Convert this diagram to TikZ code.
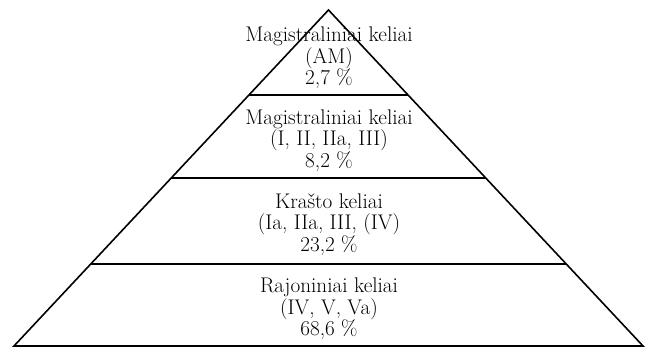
\documentclass[tikz,border=0pt]{standalone}
\usepackage{fontspec}
\usetikzlibrary{calc}
\tikzset{
  edge/.style={line width=1.6pt, line join=miter},
  level/.style={line width=1.6pt},
  label/.style={align=center, font=\fontsize{21.2}{21.6}\selectfont, inner sep=0pt}
}
\begin{document}
\begin{tikzpicture}[x=1pt,y=1pt]
\useasboundingbox (0,0) rectangle (649,348);
\coordinate (A) at (328.5,338);
\coordinate (L) at (14,2);
\coordinate (R) at (643,2);
\draw[edge] (L) -- (A) -- (R) -- cycle;
\coordinate (l1) at ($(L)!0.244!(A)$);
\coordinate (r1) at ($(R)!0.244!(A)$);
\coordinate (l2) at ($(L)!0.5!(A)$);
\coordinate (r2) at ($(R)!0.5!(A)$);
\coordinate (l3) at ($(L)!0.747!(A)$);
\coordinate (r3) at ($(R)!0.747!(A)$);
\draw[level] (l1) -- (r1);
\draw[level] (l2) -- (r2);
\draw[level] (l3) -- (r3);
\node[label] (t1) at (329,290) {Magistraliniai keliai\\(AM)\\2,7 \%};
\node[label] (t2) at (329,207.5) {Magistraliniai keliai\\(I, II, IIa, III)\\8,2 \%};
\node[label] (t3) at (329,123.5) {Kra\v{s}to keliai\\(Ia, IIa, III, (IV)\\23,2 \%};
\node[label] (t4) at (329,39) {Rajoniniai keliai\\(IV, V, Va)\\68,6 \%};
\end{tikzpicture}
\end{document}
